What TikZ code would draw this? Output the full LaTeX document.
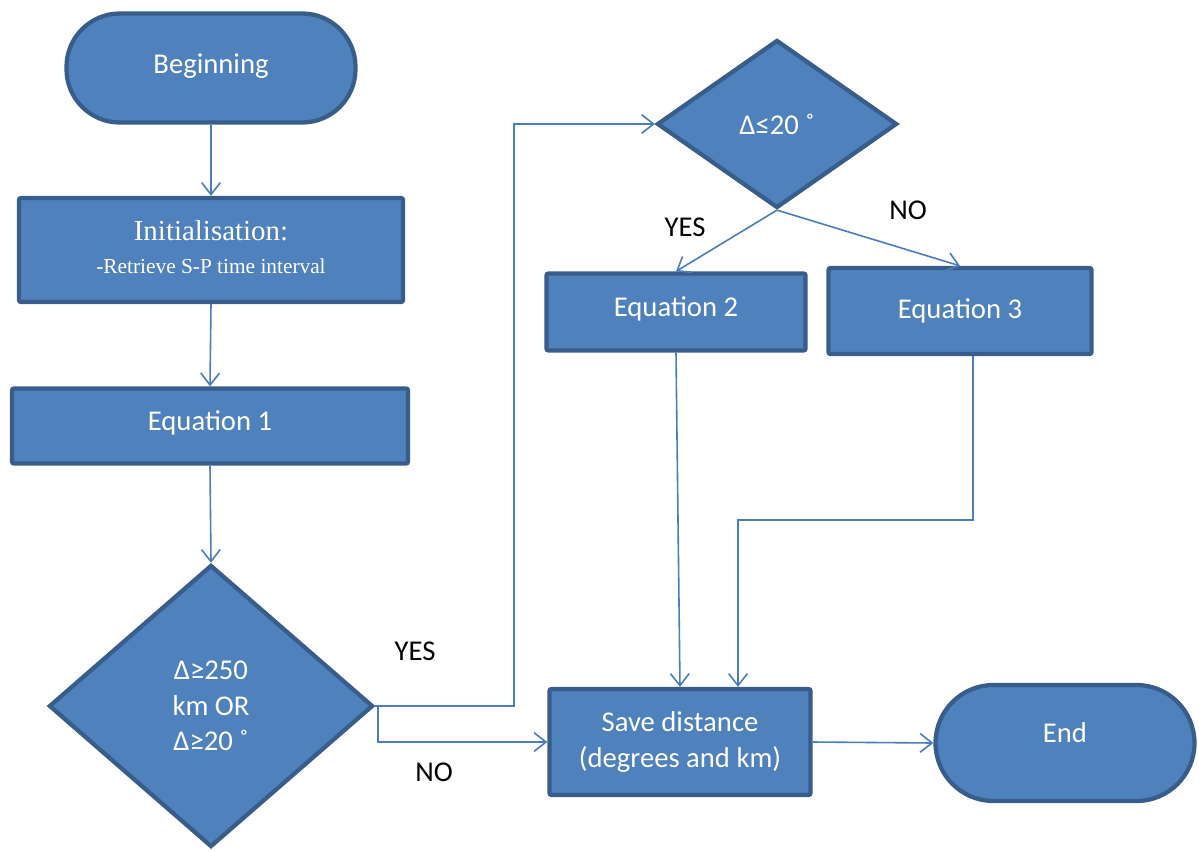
\documentclass[tikz,border=0pt]{standalone}
\usepackage{fontspec}
\setmainfont{Carlito}
\newfontfamily\serifface{Liberation Serif}
\usetikzlibrary{shapes.geometric,arrows.meta}
\definecolor{boxfill}{HTML}{4F81BD}
\definecolor{boxline}{HTML}{385D8A}
\definecolor{flow}{HTML}{4A7EBB}
\begin{document}
\begin{tikzpicture}[x=0.75pt,y=-0.75pt,
  base/.style={fill=boxfill,draw=boxline,line width=3.2pt,text=white,
    font=\fontsize{21.5}{26.5}\selectfont,align=center,inner sep=0pt},
  process/.style={base,rectangle,rounded corners=1.5pt},
  terminal/.style={base,rectangle,rounded corners=#1},
  decision/.style={base,diamond},
  flowline/.style={draw=flow,line width=1.2pt,-{Straight Barb[length=9pt,width=14pt]}},
  answer/.style={font=\fontsize{21.5}{27}\selectfont,text=black}
]
\useasboundingbox (0,0) rectangle (1199,851);

% shapes
\node[terminal=40pt,minimum width=216.75pt,minimum height=81.75pt] (begin) at (211,68)
  {\raisebox{6pt}{Beginning}};
\node[process,minimum width=288pt,minimum height=78pt] (init) at (211,250)
  {\raisebox{9pt}{\begin{tabular}{@{}c@{}}
   {\serifface\fontsize{21.7}{24}\selectfont Initialisation:}\\[-1.5pt]
   {\serifface\fontsize{16}{20}\selectfont -Retrieve S-P time interval}
   \end{tabular}}};
\node[process,minimum width=297pt,minimum height=56.25pt] (eq1) at (210,426)
  {\raisebox{7.5pt}{Equation 1}};
\node[decision,minimum width=243pt,minimum height=211.5pt] (d1) at (211,706)
  {Δ≥250\\km OR\\Δ≥20 ˚};
\node[decision,minimum width=180pt,minimum height=126pt] (d2) at (777,124) {Δ≤20 ˚};
\node[process,minimum width=194.25pt,minimum height=57.75pt] (eq2) at (676,312)
  {\raisebox{7.5pt}{Equation 2}};
\node[process,minimum width=197.25pt,minimum height=64.5pt] (eq3) at (960,311)
  {\raisebox{-6pt}{Equation 3}};
\node[process,minimum width=195.75pt,minimum height=79.5pt] (save) at (680,742)
  {Save distance\\(degrees and km)};
\node[terminal=43.5pt,minimum width=194.25pt,minimum height=87pt] (end) at (1065,743)
  {\raisebox{15pt}{End}};

% branch labels
\node[answer] (yes1) at (415,651) {YES};
\node[answer] (no1) at (434,772) {NO};
\node[answer] (yes2) at (685,227) {YES};
\node[answer] (no2) at (908,210) {NO};

% connectors
\draw[flowline] (begin.south) -- (init.north);
\draw[flowline] (init.south) -- (eq1.north);
\draw[flowline] (eq1.south) -- (d1.north);
\draw[flowline] (d1.east) -- ++(139,0) |- (d2.west);
\draw[flowline] (d1.east) -- ++(3,0) |- (save.west);
\draw[flowline] (d2.south) -- (eq2.north);
\draw[flowline] (d2.south) -- (eq3.north);
\draw[flowline] (eq2.south) -- (save.north);
\draw[flowline] ([xshift=9.75pt]eq3.south) -- ++(0,164) -| ([xshift=43.5pt]save.north);
\draw[flowline] (save.east) -- (end.west);
\end{tikzpicture}
\end{document}
